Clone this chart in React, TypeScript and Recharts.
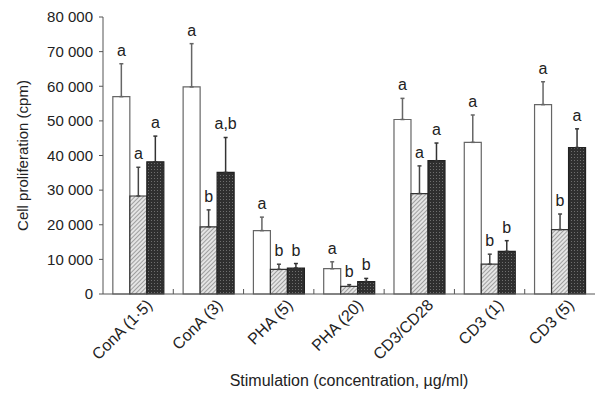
import { BarChart, Bar, XAxis, YAxis, ErrorBar, LabelList } from 'recharts';

// Stimulation conditions
const categories = ['ConA (1·5)', 'ConA (3)', 'PHA (5)', 'PHA (20)', 'CD3/CD28', 'CD3 (1)', 'CD3 (5)'];

// three cell groups (open, hatched, dark bars)
const openValues = [57000, 59800, 18300, 7300, 50400, 43800, 54700];
const openErrors = [9500, 12500, 3900, 2000, 6100, 7900, 6600];
const openLetters = ['a', 'a', 'a', 'a', 'a', 'a', 'a'];

const hatchedValues = [28300, 19400, 7100, 2200, 29000, 8600, 18600];
const hatchedErrors = [8300, 4900, 1500, 500, 8000, 2900, 4500];
const hatchedLetters = ['a', 'b', 'b', 'b', 'a', 'b', 'b'];

const darkValues = [38200, 35100, 7500, 3600, 38500, 12300, 42300];
const darkErrors = [7400, 10100, 1300, 900, 5100, 3100, 5400];
const darkLetters = ['a', 'a,b', 'b', 'b', 'a', 'b', 'a'];

const yTicks = [0, 10000, 20000, 30000, 40000, 50000, 60000, 70000, 80000];

const data = categories.map((name, i) => ({
  name,
  open: openValues[i],
  openErr: [0, openErrors[i]],
  hatched: hatchedValues[i],
  hatchedErr: [0, hatchedErrors[i]],
  dark: darkValues[i],
  darkErr: [0, darkErrors[i]],
}));

const FONT = '"Liberation Sans", Arial, Helvetica, sans-serif';
const TEXT = '#222';

const formatTick = (v: number) => (v === 0 ? '0' : `${Math.floor(v / 1000)} 000`);

// letter above the error bar, placed with the bar's own pixel scale
const letterContent = (errors: number[], letters: string[]) => (props: any) => {
  const { x, y, width, height, value, index } = props;
  if (!value) return null;
  const pxPerUnit = height / value;
  const top = y - errors[index] * pxPerUnit;
  return (
    <text
      x={x + width / 2}
      y={top - 8}
      textAnchor="middle"
      fill={TEXT}
      style={{ fontSize: 16, fontFamily: FONT }}
    >
      {letters[index]}
    </text>
  );
};

const CategoryTick = (props: any) => {
  const { x, y, payload, index } = props;
  const half = payload.offset ?? 35;
  return (
    <g>
      {index < categories.length - 1 && (
        <line x1={x + half} y1={y} x2={x + half} y2={y - 5} stroke="#555" strokeWidth={1} />
      )}
      <text
        transform={`translate(${x + 8}, ${y + 5}) rotate(-45)`}
        textAnchor="end"
        dy={10}
        fill={TEXT}
        style={{ fontSize: 16, fontFamily: FONT }}
      >
        {payload.value}
      </text>
    </g>
  );
};

export default function App() {
  return (
    <div style={{ position: 'absolute', left: 0, top: 0, width: 600, height: 394, background: '#fff' }}>
      <BarChart
        width={600}
        height={394}
        data={data}
        margin={{ top: 17, right: 5, left: 0, bottom: 0 }}
        barCategoryGap="14%"
        barGap={0}
      >
        <defs>
          <pattern id="hatch" width="3" height="3" patternUnits="userSpaceOnUse" patternTransform="rotate(45)">
            <rect width="3" height="3" fill="#e4e4e4" />
            <line x1="0" y1="0" x2="0" y2="3" stroke="#666" strokeWidth="1.1" />
          </pattern>
          <pattern id="dots" width="3" height="3" patternUnits="userSpaceOnUse">
            <rect width="3" height="3" fill="#2f2f2f" />
            <rect x="1" y="1" width="1" height="1" fill="#6e6e6e" />
          </pattern>
        </defs>
        <XAxis
          dataKey="name"
          height={100}
          interval={0}
          tickLine={false}
          tickSize={0}
          tickMargin={0}
          axisLine={{ stroke: '#555' }}
          tick={<CategoryTick />}
          label={{
            value: 'Stimulation (concentration, \u00b5g/ml)',
            position: 'insideBottom',
            offset: 8,
            style: { fontSize: 16, fontFamily: FONT, fill: TEXT },
          }}
        />
        <YAxis
          width={103}
          domain={[0, 80000]}
          ticks={yTicks}
          interval={0}
          tickFormatter={formatTick}
          tickSize={4}
          tickMargin={6}
          axisLine={{ stroke: '#555' }}
          tickLine={{ stroke: '#555' }}
          tick={{ fontSize: 15, fontFamily: FONT, fill: TEXT }}
          label={{
            content: (p: any) => {
              const cy = p.viewBox.y + p.viewBox.height / 2;
              return (
                <text
                  x={22}
                  y={cy}
                  transform={`rotate(-90, 22, ${cy})`}
                  textAnchor="middle"
                  dominantBaseline="central"
                  fill={TEXT}
                  style={{ fontSize: 15, fontFamily: FONT }}
                >
                  Cell proliferation (cpm)
                </text>
              );
            },
          }}
        />
        <Bar dataKey="open" fill="#ffffff" stroke="#666" strokeWidth={1.2} isAnimationActive={false}>
          <ErrorBar dataKey="openErr" width={2} stroke="#666" strokeWidth={1.5} />
          <LabelList dataKey="open" content={letterContent(openErrors, openLetters)} />
        </Bar>
        <Bar dataKey="hatched" fill="url(#hatch)" stroke="#333" strokeWidth={1.2} isAnimationActive={false}>
          <ErrorBar dataKey="hatchedErr" width={2} stroke="#444" strokeWidth={1.5} />
          <LabelList dataKey="hatched" content={letterContent(hatchedErrors, hatchedLetters)} />
        </Bar>
        <Bar dataKey="dark" fill="url(#dots)" stroke="#222" strokeWidth={1.2} isAnimationActive={false}>
          <ErrorBar dataKey="darkErr" width={2} stroke="#333" strokeWidth={1.5} />
          <LabelList dataKey="dark" content={letterContent(darkErrors, darkLetters)} />
        </Bar>
      </BarChart>
    </div>
  );
}
